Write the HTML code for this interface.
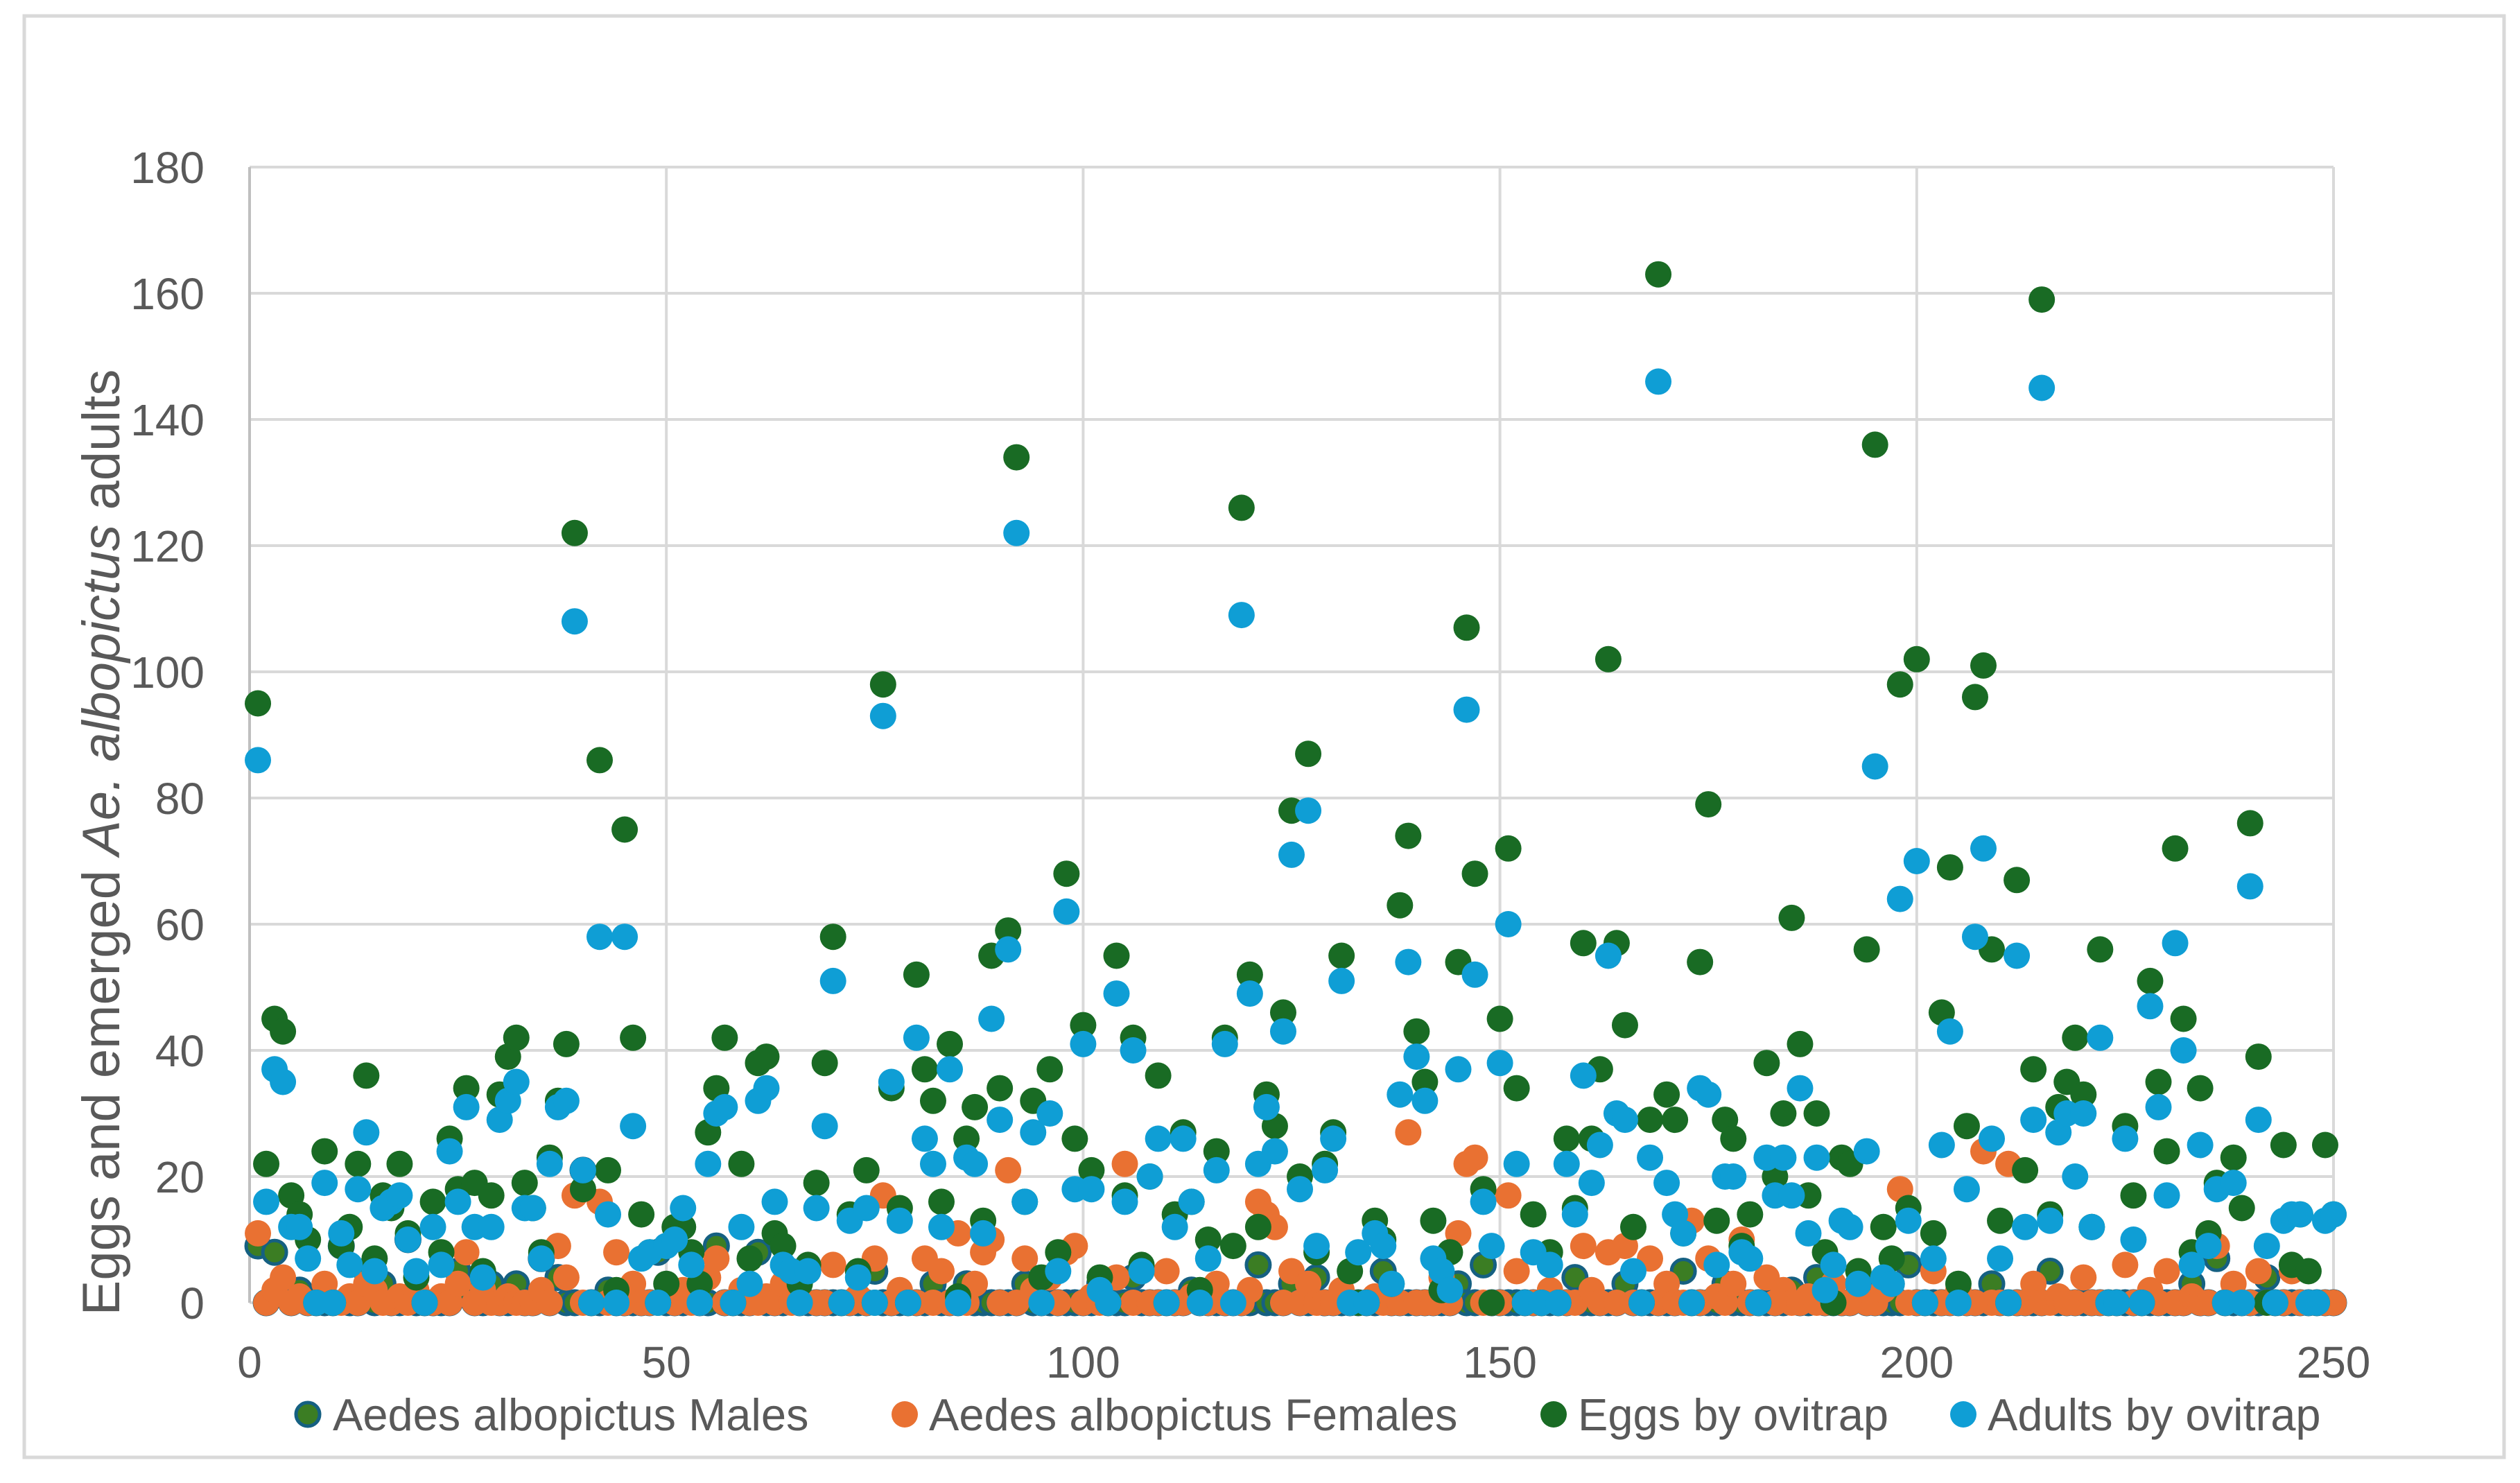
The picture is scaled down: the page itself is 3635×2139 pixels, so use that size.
<!DOCTYPE html>
<html><head><meta charset="utf-8"><style>
html,body{margin:0;padding:0;background:#fff;}
svg{display:block;font-family:"Liberation Sans",sans-serif;}
</style></head><body>
<svg id="chart" width="3635" height="2139" viewBox="0 0 3635 2139" xmlns="http://www.w3.org/2000/svg">
<rect x="35" y="23" width="3577" height="2079" fill="#fff" stroke="#d9d9d9" stroke-width="5"/>
<g id="grid"></g>
<g id="yticks"></g>
<g id="xticks"></g>
<g id="marks"></g>
<text transform="translate(172,1215) rotate(-90)" text-anchor="middle" font-size="76" fill="#595959">Eggs and emerged <tspan font-style="italic">Ae. albopictus</tspan> adults</text>
<g font-size="65" fill="#595959">
  <g><circle cx="444" cy="2040" r="17" fill="#3B7D23" stroke="#156082" stroke-width="5"/><text x="480" y="2063">Aedes albopictus Males</text></g>
  <g><circle cx="1305" cy="2040" r="19" fill="#E97132"/><text x="1340" y="2063">Aedes albopictus Females</text></g>
  <g><circle cx="2241" cy="2040" r="19" fill="#196B24"/><text x="2276" y="2063">Eggs by ovitrap</text></g>
  <g><circle cx="2832" cy="2040" r="19" fill="#0F9ED5"/><text x="2867" y="2063">Adults by ovitrap</text></g>
</g>
</svg>
<script>
const yTickLabels = [0,20,40,60,80,100,120,140,160,180];
const xTickLabels = [0,50,100,150,200,250];
const males = [9,0,8,3,0,2,0,0,0,0, 9,0,0,5,0,3,0,0,10,0, 0,0,0,0,5,2,0,0,3,0, 0,3,0,0,7,0,4,0,0,21, 0,0,2,0,0,0,0,0,8,0,
 0,0,1,0,0,9,0,0,0,0, 8,0,0,0,2,0,0,0,0,0, 0,0,0,0,5,0,0,0,0,0, 0,3,0,0,0,3,0,0,0,0, 0,0,3,0,0,0,0,0,0,0,
 0,3,0,0,0,4,0,0,0,0, 0,0,2,0,0,0,0,0,0,0, 6,0,0,0,3,0,0,4,0,0, 0,0,0,0,0,5,0,0,0,0, 0,0,0,0,3,0,0,6,0,0,
 0,0,0,0,0,0,0,0,4,0, 0,0,0,0,3,0,0,0,0,0, 0,5,0,0,0,0,3,0,0,0, 0,0,0,0,2,0,0,4,0,0, 0,0,3,0,0,0,0,0,6,0,
 0,0,0,0,0,0,0,0,3,0, 0,0,0,0,0,5,0,0,0,0, 0,0,0,0,0,0,0,0,0,0, 0,0,3,0,0,7,0,0,0,0, 0,4,0,0,0,0,0,0,0,0];
const females = [11,0,2,4,0,1,0,0,3,0, 0,1,0,3,2,0,0,1,0,2, 0,0,1,0,3,8,0,2,0,0, 1,0,0,0,2,0,9,4,17,0, 0,16,0,8,0,3,0,0,0,1,
 0,2,0,0,4,7,0,0,2,0, 0,1,0,3,0,0,5,0,0,6, 0,0,1,0,7,17,0,2,0,0, 7,0,5,0,11,0,3,8,10,0, 21,0,7,2,0,4,0,8,9,0,
 1,0,0,4,22,0,5,0,0,5, 0,0,1,0,0,3,0,0,0,2, 16,14,12,0,5,0,3,0,0,0, 2,0,0,0,1,0,0,0,27,0, 0,0,4,0,11,22,23,0,0,0,
 17,5,0,0,0,2,0,0,0,9, 2,0,8,0,9,0,0,7,0,3, 0,0,13,0,7,1,0,3,10,0, 0,4,0,2,0,0,1,0,0,3, 0,0,5,0,0,2,3,18,0,0,
 0,5,0,0,2,0,0,24,0,0, 22,0,0,3,0,0,1,0,0,4, 0,0,0,0,6,0,0,2,0,5, 0,0,1,0,0,9,0,3,0,0, 5,0,0,0,5,0,0,0,0,0];
const eggs = [95,22,45,43,17,14,10,0,24,0, 9,12,22,36,7,17,15,22,11,4, 0,16,8,26,18,34,19,5,17,33, 39,42,19,15,8,23,32,41,122,18, 0,86,21,2,75,42,14,8,0,3,
 12,12,8,3,27,34,42,0,22,7, 38,39,11,9,5,3,6,19,38,58, 0,14,5,21,0,98,34,15,0,52, 37,32,16,41,1,26,31,13,55,34, 59,134,16,32,4,37,8,68,26,44,
 21,4,0,55,17,42,6,20,36,0, 14,27,16,2,10,24,42,9,126,52, 12,33,28,46,78,20,87,8,22,27, 55,5,0,0,13,10,3,63,74,43, 35,13,2,8,54,107,68,18,0,45,
 72,34,0,14,0,8,0,26,15,57, 26,37,102,57,44,12,0,29,163,33, 29,11,0,54,79,13,29,26,9,14, 0,38,20,30,61,41,17,30,8,0, 23,22,5,56,136,12,7,98,15,102,
 0,11,46,69,3,28,96,101,56,13, 0,67,21,37,159,14,31,35,42,33, 12,56,0,0,28,17,0,51,35,24, 72,45,8,34,11,19,0,23,15,76, 39,0,0,25,6,14,5,0,25,14];
const adults = [86,16,37,35,12,12,7,0,19,0, 11,6,18,27,5,15,16,17,10,5, 0,12,6,24,16,31,12,4,12,29, 32,35,15,15,7,22,31,32,108,21, 0,58,14,0,58,28,7,8,0,9,
 10,15,6,0,22,30,31,0,12,3, 32,34,16,6,5,0,5,15,28,51, 0,13,4,15,0,93,35,13,0,42, 26,22,12,37,0,23,22,11,45,29, 56,122,16,27,0,30,5,62,18,41,
 18,2,0,49,16,40,5,20,26,0, 12,26,16,0,7,21,41,0,109,49, 22,31,24,43,71,18,78,9,21,26, 51,0,8,0,11,9,3,33,54,39, 32,7,5,2,37,94,52,16,9,38,
 60,22,0,8,0,6,0,22,14,36, 19,25,55,30,29,5,0,23,146,19, 14,11,0,34,33,6,20,20,8,7, 0,23,17,23,17,34,11,23,2,6, 13,12,3,24,85,4,3,64,13,70,
 0,7,25,43,0,18,58,72,26,7, 0,55,12,29,145,13,27,30,20,30, 12,42,0,0,26,10,0,47,31,17, 57,40,6,25,9,18,0,19,0,66, 29,9,0,13,14,14,0,0,13,14];

const X0=360, X1=3366, Y0=1879, Y1=241;
const xs = v => X0 + (v/250)*(X1-X0);
const ys = v => Y0 - (v/180)*(Y0-Y1);
const NS='http://www.w3.org/2000/svg';
function mk(tag, attrs){const e=document.createElementNS(NS,tag);for(const k in attrs)e.setAttribute(k,attrs[k]);return e;}
const grid=document.getElementById('grid'), yt=document.getElementById('yticks'), xt=document.getElementById('xticks'), marks=document.getElementById('marks');
yTickLabels.forEach(v=>{
  const l=mk('line',{x1:X0,x2:X1,y1:ys(v),y2:ys(v),stroke:'#d9d9d9','stroke-width':4});
  
  
  grid.appendChild(l);
  const t=mk('text',{x:295,y:ys(v)+23,'text-anchor':'end','font-size':64,fill:'#595959'});
  t.textContent=v;
  
  
  yt.appendChild(t);
});
xTickLabels.forEach(v=>{
  const l=mk('line',{x1:xs(v),x2:xs(v),y1:Y1,y2:Y0,stroke:v===0?'#bfbfbf':'#d9d9d9','stroke-width':4});
  
  
  grid.appendChild(l);
  const t=mk('text',{x:xs(v),y:1987,'text-anchor':'middle','font-size':64,fill:'#595959'});
  t.textContent=v;
  
  
  xt.appendChild(t);
});
function series(arr, name, fill, stroke){
  arr.forEach((v,i)=>{
    const c=mk('circle',{cx:xs(i+1),cy:ys(v),r:stroke?17:19,fill:fill});
    if(stroke){c.setAttribute('stroke',stroke);c.setAttribute('stroke-width',5);}
    
    
    marks.appendChild(c);
  });
}
series(males,'point-males','#3B7D23','#156082');
series(females,'point-females','#E97132',null);
series(eggs,'point-eggs','#196B24',null);
series(adults,'point-adults','#0F9ED5',null);
</script>
</body></html>
